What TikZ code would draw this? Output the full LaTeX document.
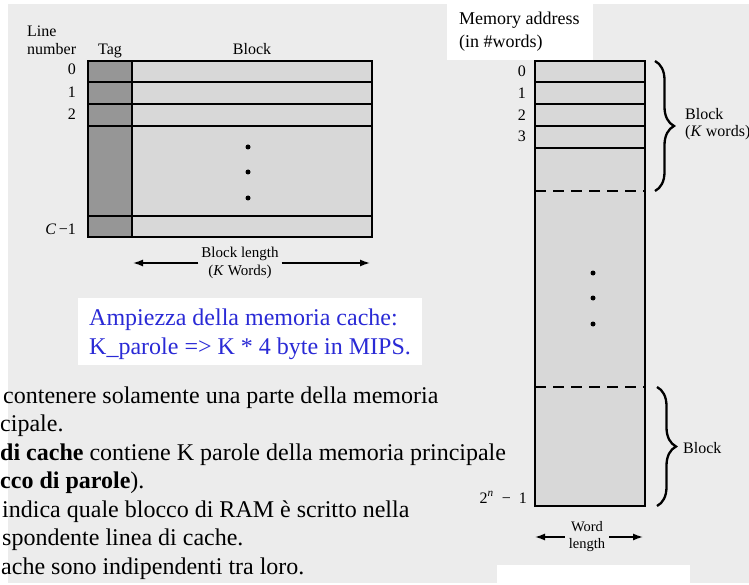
\documentclass[tikz,border=0pt]{standalone}
\usepackage{fontspec}
\setmainfont{Liberation Serif}
\usepackage{tikz}
\usetikzlibrary{arrows.meta,positioning,decorations.pathreplacing}
\definecolor{PageGray}{HTML}{ECECEC}
\definecolor{TagGray}{HTML}{969696}
\definecolor{CellGray}{HTML}{D8D8D8}
\definecolor{NoteBlue}{HTML}{2A2AD6}

\begin{document}
\begin{tikzpicture}[x=1pt, y=-1pt,
          every node/.style={inner sep=0pt, font=\fontsize{16}{17}\selectfont},
          lbl/.style={anchor=base west},
          num/.style={anchor=base east},
          body/.style={anchor=base west, font=\fontsize{24}{28.5}\selectfont},
          note/.style={body, text=NoteBlue},
          cell/.style={draw, line width=1.5pt},
          lenarrow/.style={line width=1.4pt, -{Latex[length=10pt,width=7pt]}},
          curly/.style={decorate, decoration={brace, amplitude=19pt}, line width=2.3pt},
          dot/.style={circle, fill, minimum size=5pt}
        ]
          \useasboundingbox (0,0) rectangle (749,585);
          \fill[white] (0,0) rectangle (749,585);
          \fill[PageGray] (8,4) rectangle (749,583);
          \fill[white] (447,0) rectangle (593,60);
          \fill[white] (78,298) rectangle (422,365);
          \fill[white] (497,565) rectangle (690,585);

          \filldraw[cell, fill=CellGray] (88,61) rectangle (372,237);
          \filldraw[cell, fill=TagGray] (88,61) rectangle (132,237);
          \foreach \y in {82,104,126,216}
            \draw[cell] (88,\y) -- (372,\y);
          \node[lbl] (linelbl) at (27,37) {Line};
          \node[lbl] (numlbl) at (27,55) {number};
          \node[anchor=base] (taglbl) at (110,55) {Tag};
          \node[anchor=base] (blocklbl) at (252,55) {Block};
          \foreach \n/\y in {0/75,1/98,2/120}
            \node[num] (row\n) at (76,\y) {\n};
          \node[num] (rowlast) at (76,235) {\textit{C}\,−1};
          \foreach \y in {147,172,198}
            \node[dot] (cdot\y) at (248,\y) {};
          \node[align=center, inner sep=3pt, font=\fontsize{15}{18}\selectfont] (blen) at (240,263) {Block length\\(\textit{K} Words)};
          \coordinate (blenL) at (133,263);
          \coordinate (blenR) at (370,263);
          \draw[lenarrow] (blen) -- (blenL);
          \draw[lenarrow] (blen) -- (blenR);

          \node[lbl, font=\fontsize{18}{23}\selectfont] (memlbl) at (459,25) {Memory address};
          \node[lbl, font=\fontsize{18}{23}\selectfont] (memunit) at (459,48) {(in \#words)};
          \filldraw[cell, fill=CellGray] (535,61) rectangle (645,506);
          \foreach \y in {82,104,126,148}
            \draw[cell] (535,\y) -- (645,\y);
          \foreach \y in {191,387}
            \draw[cell, dash pattern=on 11pt off 7pt] (535,\y) -- (645,\y);
          \foreach \n/\y in {0/77,1/99,2/121,3/142}
            \node[num] (addr\n) at (526,\y) {\n};
          \node[num] (addrlast) at (527,503) {2\textsuperscript{\textit{n}}\enspace−\enspace1};
          \foreach \y in {273,298,324}
            \node[dot] (mdot\y) at (593,\y) {};
          \coordinate (topA) at (655,61);
          \coordinate (topB) at (655,191);
          \coordinate (lowA) at (657,387);
          \coordinate (lowB) at (657,506);
          \draw[curly] (topA) -- (topB);
          \draw[curly] (lowA) -- (lowB);
          \node[lbl] (blkK) at (685,120) {Block};
          \node[lbl] (blkKw) at (685,137) {(\textit{K} words)};
          \node[lbl] (blkword) at (683,453) {Block};
          \node[align=center, inner sep=4pt, font=\fontsize{14.5}{17}\selectfont] (wlen) at (587,537) {Word\\length};
          \coordinate (wlenL) at (535,537);
          \coordinate (wlenR) at (643,537);
          \draw[lenarrow] (wlen) -- (wlenL);
          \draw[lenarrow] (wlen) -- (wlenR);

          \node[note] (note1) at (89,325) {Ampiezza della memoria cache:};
          \node[note] (note2) at (89,354) {K\_parole => K * 4 byte in MIPS.};
          \node[body] (txt1) at (3,403) {contenere solamente una parte della memoria};
          \node[body] (txt2) at (0,431.5) {cipale.};
          \node[body] (txt3) at (0,460) {\textbf{di cache} contiene K parole della memoria principale};
          \node[body] (txt4) at (0,488.5) {\textbf{cco di parole}).};
          \node[body] (txt5) at (2,517) {indica quale blocco di RAM è scritto nella};
          \node[body] (txt6) at (2,545.5) {spondente linea di cache.};
          \node[body] (txt7) at (1,574) {ache sono indipendenti tra loro.};
        \end{tikzpicture}
\end{document}
